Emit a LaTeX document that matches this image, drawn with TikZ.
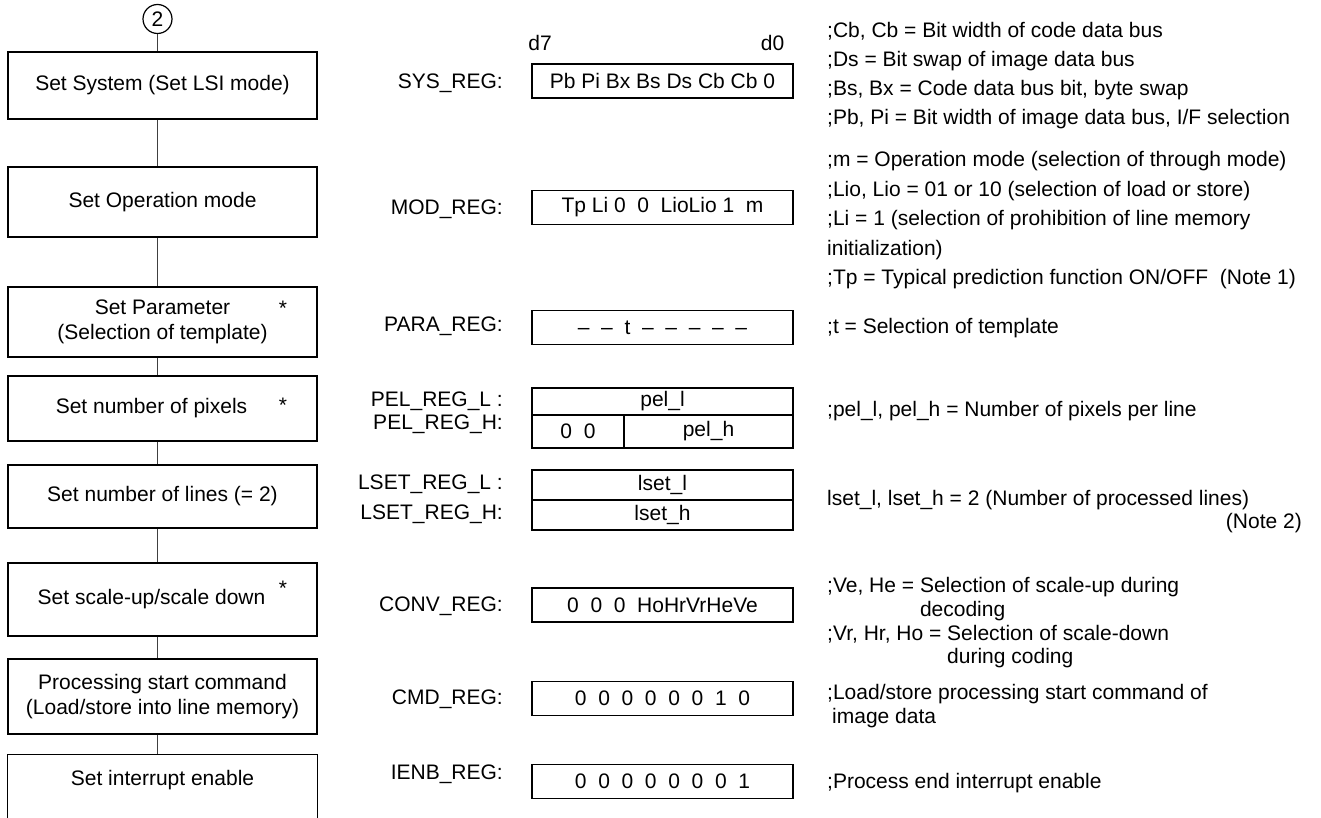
\documentclass[tikz,border=0pt]{standalone}
\usepackage{fontspec}
\setmainfont{Liberation Sans}
\usetikzlibrary{positioning}

\begin{document}
\begin{tikzpicture}[x=1pt,y=-1pt,
  tx/.style={inner sep=0pt,font=\fontsize{21}{25}\selectfont},
  stp/.style={draw,line width=1.4pt,minimum width=309pt,inner sep=0pt,align=center,font=\fontsize{21}{25}\selectfont},
  rg/.style={draw,line width=1.4pt,minimum width=261pt,minimum height=34pt,inner sep=0pt,font=\fontsize{21}{25}\selectfont},
  rl/.style={tx,anchor=east},
  nt/.style={tx,anchor=west,align=left,font=\fontsize{21}{29}\selectfont},
  cn/.style={circle,draw,line width=1.2pt,minimum size=29pt,inner sep=0pt,font=\fontsize{21}{25}\selectfont},
  ln/.style={line width=1pt,black!75}
]
\useasboundingbox (0,0) rectangle (1321,818);
%--- flow of steps ---
\node[cn] (con2) at (157.5,19) {2};
\node[stp,minimum height=67pt] (sys) at (162.5,85.5) {Set System (Set LSI mode)};
\node[stp,minimum height=70pt] (mod) at (162.5,202) {Set Operation mode};
\node[stp,minimum height=70pt] (para) at (162.5,322) {Set Parameter\\(Selection of template)};
\node[stp,minimum height=65pt] (pel) at (162.5,408.5) {\mbox{Set number of pixels\hspace{22pt}}};
\node[stp,minimum height=63pt] (lset) at (162.5,496.5) {Set number of lines (= 2)};
\node[stp,minimum height=73pt] (conv) at (162.5,599.5) {\mbox{Set scale-up/scale down\hspace{22pt}}};
\node[stp,minimum height=75pt] (cmd) at (162.5,696.5) {Processing start command\\(Load/store into line memory)};
\node[stp,draw=none,minimum height=50pt] (ienb) at (162.5,780) {Set interrupt enable};
\draw[line width=1.4pt] ([yshift=-20pt]ienb.south west) |- (ienb.north east) -- ([yshift=-20pt]ienb.south east);
\node[tx] (parast) at (283,308) {*};
\node[tx] (pelast) at (283,405) {*};
\node[tx] (convast) at (283,588) {*};
\foreach \a/\b in {con2/sys,sys/mod,mod/para,para/pel,pel/lset,lset/conv,conv/cmd,cmd/ienb}
  \draw[ln] (\a.south -| con2) -- (\b.north -| con2);
%--- registers ---
\node[tx] (d7) at (540,43) {d7};
\node[tx] (d0) at (772.5,43) {d0};
\node[rg] (sysreg) at (662.5,81) {Pb Pi Bx Bs Ds Cb Cb 0};
\node[rg] (modreg) at (662.5,207.5) {Tp Li 0\ \ 0\ \ LioLio 1\ \ m};
\node[rg] (parareg) at (662.5,327.5) {--\ \ --\ \ t\ \ --\ \ --\ \ --\ \ --\ \ --};
\node[rg,minimum height=27pt] (pell) at (662.5,401.5) {pel\_l};
\node[rg,minimum width=92pt,minimum height=33pt] (pelz) at (578,431.5) {0\ \ 0};
\node[rg,minimum width=169pt,minimum height=33pt] (pelh) at (708.5,431.5) {pel\_h};
\node[rg,minimum height=30pt] (lsetl) at (662.5,485) {lset\_l};
\node[rg,minimum height=30pt] (lseth) at (662.5,515) {lset\_h};
\node[rg] (convreg) at (662.5,605) {0\ \ 0\ \ 0\ \ HoHrVrHeVe};
\node[rg] (cmdreg) at (662.5,698.5) {0\ \ 0\ \ 0\ \ 0\ \ 0\ \ 0\ \ 1\ \ 0};
\node[rg] (ienbreg) at (662.5,781.5) {0\ \ 0\ \ 0\ \ 0\ \ 0\ \ 0\ \ 0\ \ 1};
\node[rl] (sysl) at (503,83) {SYS\_REG:};
\node[rl] (modl) at (503,209) {MOD\_REG:};
\node[rl] (paral) at (503,326) {PARA\_REG:};
\node[rl] (pelll) at (503,401) {PEL\_REG\_L :};
\node[rl] (pelhl) at (503,424) {PEL\_REG\_H:};
\node[rl] (lsetll) at (503,484) {LSET\_REG\_L :};
\node[rl] (lsethl) at (503,514) {LSET\_REG\_H:};
\node[rl] (convl) at (503,606) {CONV\_REG:};
\node[rl] (cmdl) at (503,699) {CMD\_REG:};
\node[rl] (ienbl) at (503,774) {IENB\_REG:};
%--- notes ---
\node[nt] (sysnt) at (827,76) {;Cb, Cb = Bit width of code data bus\\;Ds = Bit swap of image data bus\\;Bs, Bx = Code data bus bit, byte swap\\;Pb, Pi = Bit width of image data bus, I/F selection};
\node[nt,font=\fontsize{21}{29.5}\selectfont] (modnt) at (827,220.5) {;m = Operation mode (selection of through mode)\\;Lio, Lio = 01 or 10 (selection of load or store)\\;Li = 1 (selection of prohibition of line memory\\initialization)\\;Tp = Typical prediction function ON/OFF\ \ (Note 1)};
\node[nt] (parant) at (827,328.5) {;t = Selection of template};
\node[nt] (pelnt) at (827,411.5) {;pel\_l, pel\_h = Number of pixels per line};
\node[nt] (lsetnt) at (827,500.5) {lset\_l, lset\_h = 2 (Number of processed lines)};
\node[tx,anchor=east] (lsetnote) at (1302,523) {(Note 2)};
\node[nt,font=\fontsize{21}{23.7}\selectfont] (convnt) at (827,623) {;Ve, He = Selection of scale-up during\\\phantom{;Ve, He = }decoding\\;Vr, Hr, Ho = Selection of scale-down\\\phantom{;Vr, Hr, Ho = }during coding};
\node[nt,font=\fontsize{21}{24}\selectfont] (cmdnt) at (827,706.5) {;Load/store processing start command of\\\hspace*{5pt}image data};
\node[nt] (ienbnt) at (827,783.5) {;Process end interrupt enable};
\end{tikzpicture}
\end{document}
